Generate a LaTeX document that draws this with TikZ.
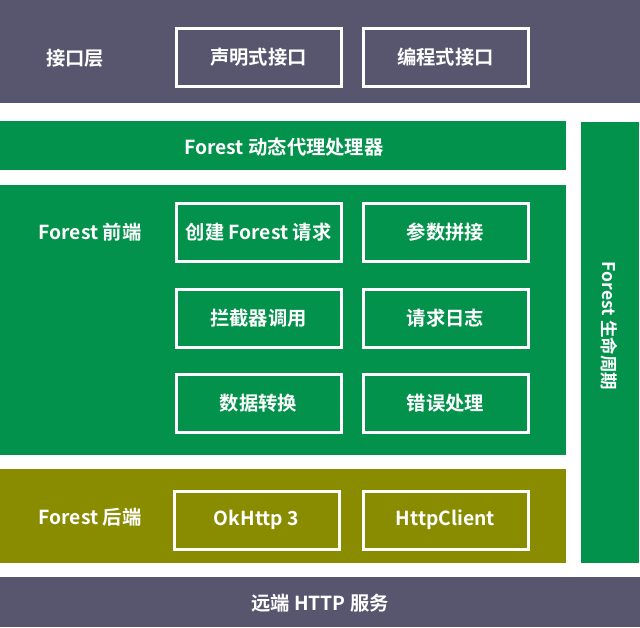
\documentclass[tikz,border=0pt]{standalone}
\usepackage{fontspec}
\setmainfont{Noto Sans CJK SC Bold}
\newfontfamily\cjkb{Noto Sans CJK SC Bold}
\definecolor{bandgray}{HTML}{58566E}
\definecolor{fgreen}{HTML}{02924B}
\definecolor{folive}{HTML}{8A8C00}
\begin{document}
\begin{tikzpicture}[x=1pt,y=-1pt,
  band/.style={inner sep=0pt,outer sep=0pt,draw=none},
  wbox/.style={draw=white,line width=3pt,minimum width=165pt,minimum height=58pt,inner sep=0pt,text=white,font=\cjkb\fontsize{19.3}{21}\selectfont},
  lbl/.style={text=white,inner sep=0pt,font=\cjkb\fontsize{19.3}{21}\selectfont}]
\useasboundingbox (0,0) rectangle (640,627);
\fill[white] (0,0) rectangle (640,627);
% bands
\node[band,fill=bandgray,minimum width=640pt,minimum height=103pt] (top) at (320,51.5) {};
\node[band,fill=fgreen,minimum width=566pt,minimum height=49pt] (proxy) at (283,145.5) {};
\node[band,fill=fgreen,minimum width=566pt,minimum height=270pt] (front) at (283,320) {};
\node[band,fill=folive,minimum width=566pt,minimum height=94pt] (back) at (283,516) {};
\node[band,fill=fgreen,minimum width=58pt,minimum height=441pt] (side) at (610,342.5) {};
\node[band,fill=bandgray,minimum width=640pt,minimum height=50pt] (bottom) at (320,602) {};
% labels
\node[lbl] (ltop) at (75,58) {接口层};
\node[lbl] (lproxy) at (284,147) {Forest 动态代理处理器};
\node[lbl] (lfront) at (90,232) {Forest 前端};
\node[lbl] (lback) at (90,517) {Forest 后端};
\node[lbl,rotate=-90,font=\cjkb\fontsize{17.5}{19}\selectfont] (lside) at (609.5,326) {Forest 生命周期};
\node[lbl] (lbottom) at (320,603) {远端 HTTP 服务};
% boxes
\node[wbox] (decl) at (258.5,57) {声明式接口};
\node[wbox] (prog) at (445.5,57) {编程式接口};
\node[wbox] (create) at (258.5,232) {创建 Forest 请求};
\node[wbox] (param) at (445.5,232) {参数拼接};
\node[wbox] (inter) at (258.5,318) {拦截器调用};
\node[wbox] (log) at (445.5,318) {请求日志};
\node[wbox] (conv) at (258.5,403) {数据转换};
\node[wbox] (err) at (445.5,403) {错误处理};
\node[wbox] (ok) at (256.5,520) {OkHttp 3};
\node[wbox] (hc) at (445.5,520) {HttpClient};
\end{tikzpicture}
\end{document}
